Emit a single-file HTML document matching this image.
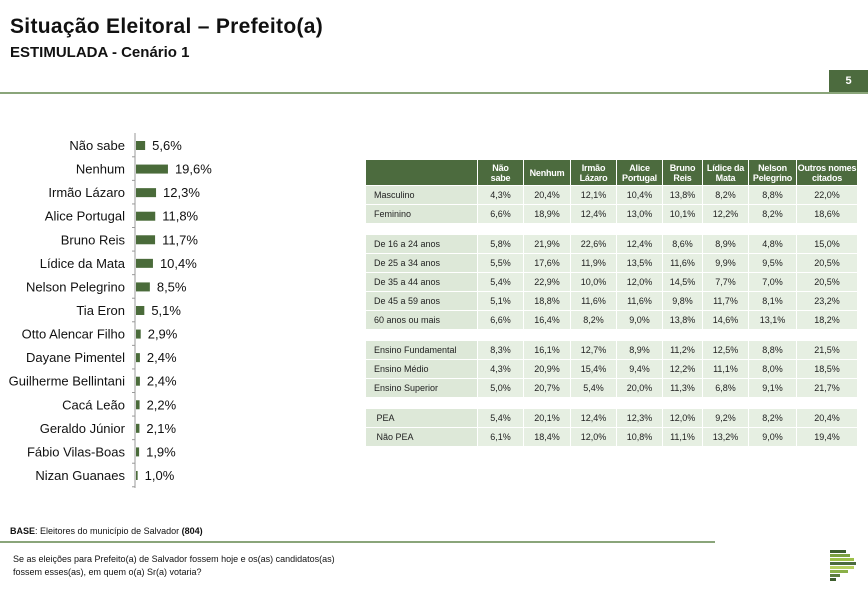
<!DOCTYPE html>
<html><head><meta charset="utf-8">
<style>
body{margin:0;width:868px;height:599px;background:#fff;font-family:"Liberation Sans",Arial,sans-serif;position:relative;overflow:hidden}
.abs{position:absolute}
table{border-collapse:separate;border-spacing:1px 1px;position:absolute;left:365px;top:159px;font-size:9px}
td,th{padding:0;text-align:center}
th{background:#4c6b3e;color:#fff;font-weight:bold;font-size:9px;line-height:10px;height:25px;white-space:nowrap;letter-spacing:-0.2px}
td{background:#e6efe2;height:18px;color:#222}
td.l{text-align:left;padding-left:8px;background:#dde8d8}
tr.gap td{background:#fff;height:10px}
</style></head><body>
<div class="abs" style="left:10px;top:15px;font-size:21px;font-weight:bold;color:#111;letter-spacing:0.3px">Situação Eleitoral – Prefeito(a)</div>
<div class="abs" style="left:10px;top:44px;font-size:15px;font-weight:bold;color:#111">ESTIMULADA - Cenário 1</div>
<div class="abs" style="left:829px;top:70px;width:39px;height:23px;background:#4c6b3e;color:#fff;font-size:11px;font-weight:bold;text-align:center;line-height:23px">5</div>
<div class="abs" style="left:0;top:92px;width:868px;height:2px;background:#8aa57a"></div>

<svg class="abs" style="left:0;top:0" width="360" height="500" id="chart"></svg>

<table>
<tr><th style="width:111px;background:#4c6b3e"></th><th style="width:45px">Não<br>sabe</th><th style="width:46px">Nenhum</th><th style="width:45px">Irmão<br>Lázaro</th><th style="width:45px">Alice<br>Portugal</th><th style="width:39px">Bruno<br>Reis</th><th style="width:45px">Lídice da<br>Mata</th><th style="width:47px">Nelson<br>Pelegrino</th><th style="width:60px">Outros nomes<br>citados</th></tr>
<tr><td class="l">Masculino</td><td>4,3%</td><td>20,4%</td><td>12,1%</td><td>10,4%</td><td>13,8%</td><td>8,2%</td><td>8,8%</td><td>22,0%</td></tr>
<tr><td class="l">Feminino</td><td>6,6%</td><td>18,9%</td><td>12,4%</td><td>13,0%</td><td>10,1%</td><td>12,2%</td><td>8,2%</td><td>18,6%</td></tr>
<tr class="gap"><td colspan="9"></td></tr>
<tr><td class="l">De 16 a 24 anos</td><td>5,8%</td><td>21,9%</td><td>22,6%</td><td>12,4%</td><td>8,6%</td><td>8,9%</td><td>4,8%</td><td>15,0%</td></tr>
<tr><td class="l">De 25 a 34 anos</td><td>5,5%</td><td>17,6%</td><td>11,9%</td><td>13,5%</td><td>11,6%</td><td>9,9%</td><td>9,5%</td><td>20,5%</td></tr>
<tr><td class="l">De 35 a 44 anos</td><td>5,4%</td><td>22,9%</td><td>10,0%</td><td>12,0%</td><td>14,5%</td><td>7,7%</td><td>7,0%</td><td>20,5%</td></tr>
<tr><td class="l">De 45 a 59 anos</td><td>5,1%</td><td>18,8%</td><td>11,6%</td><td>11,6%</td><td>9,8%</td><td>11,7%</td><td>8,1%</td><td>23,2%</td></tr>
<tr><td class="l">60 anos ou mais</td><td>6,6%</td><td>16,4%</td><td>8,2%</td><td>9,0%</td><td>13,8%</td><td>14,6%</td><td>13,1%</td><td>18,2%</td></tr>
<tr class="gap"><td colspan="9"></td></tr>
<tr><td class="l">Ensino Fundamental</td><td>8,3%</td><td>16,1%</td><td>12,7%</td><td>8,9%</td><td>11,2%</td><td>12,5%</td><td>8,8%</td><td>21,5%</td></tr>
<tr><td class="l">Ensino Médio</td><td>4,3%</td><td>20,9%</td><td>15,4%</td><td>9,4%</td><td>12,2%</td><td>11,1%</td><td>8,0%</td><td>18,5%</td></tr>
<tr><td class="l">Ensino Superior</td><td>5,0%</td><td>20,7%</td><td>5,4%</td><td>20,0%</td><td>11,3%</td><td>6,8%</td><td>9,1%</td><td>21,7%</td></tr>
<tr class="gap"><td colspan="9"></td></tr>
<tr><td class="l">&nbsp;PEA</td><td>5,4%</td><td>20,1%</td><td>12,4%</td><td>12,3%</td><td>12,0%</td><td>9,2%</td><td>8,2%</td><td>20,4%</td></tr>
<tr><td class="l">&nbsp;Não PEA</td><td>6,1%</td><td>18,4%</td><td>12,0%</td><td>10,8%</td><td>11,1%</td><td>13,2%</td><td>9,0%</td><td>19,4%</td></tr>
</table>

<div class="abs" style="left:10px;top:526px;font-size:9px;color:#111"><b>BASE</b>: Eleitores do município de Salvador <b>(804)</b></div>
<div class="abs" style="left:0;top:541px;width:715px;height:2px;background:#8aa57a"></div>
<div class="abs" style="left:13px;top:553px;font-size:9px;line-height:13px;color:#111">Se as eleições para Prefeito(a) de Salvador fossem hoje e os(as) candidatos(as)<br>fossem esses(as), em quem o(a) Sr(a) votaria?</div>
<svg class="abs" style="left:830px;top:550px" width="30" height="40">
<rect x="0" y="0" width="16" height="3" fill="#3e5e2e"/><rect x="0" y="4" width="20" height="3" fill="#7aa040"/><rect x="0" y="8" width="24" height="3" fill="#9cc048"/><rect x="0" y="12" width="26" height="3" fill="#4c6b3e"/><rect x="0" y="16" width="24" height="3" fill="#b6d060"/><rect x="0" y="20" width="18" height="3" fill="#8ab048"/><rect x="0" y="24" width="10" height="3" fill="#5c7e3e"/><rect x="0" y="28" width="6" height="3" fill="#3e5e2e"/>
</svg>

<script>
const names=["Não sabe","Nenhum","Irmão Lázaro","Alice Portugal","Bruno Reis","Lídice da Mata","Nelson Pelegrino","Tia Eron","Otto Alencar Filho","Dayane Pimentel","Guilherme Bellintani","Cacá Leão","Geraldo Júnior","Fábio Vilas-Boas","Nizan Guanaes"];
const values=[5.6,19.6,12.3,11.8,11.7,10.4,8.5,5.1,2.9,2.4,2.4,2.2,2.1,1.9,1.0];
const labels=["5,6%","19,6%","12,3%","11,8%","11,7%","10,4%","8,5%","5,1%","2,9%","2,4%","2,4%","2,2%","2,1%","1,9%","1,0%"];
const svg=document.getElementById('chart');
const NS="http://www.w3.org/2000/svg";
const x0=136,scale=1.63,y0=145,step=23.57;
const xf=v=>x0+v*scale, yf=i=>y0+i*step;
const ax=document.createElementNS(NS,'line');


ax.setAttribute('x1',135);ax.setAttribute('x2',135);ax.setAttribute('y1',133);ax.setAttribute('y2',488);ax.setAttribute('stroke','#999');
svg.appendChild(ax);
names.forEach((n,i)=>{
 const y=yf(i);
 const t=document.createElementNS(NS,'line');
 
 
 t.setAttribute('x1',132);t.setAttribute('x2',135);t.setAttribute('y1',y+11.8);t.setAttribute('y2',y+11.8);t.setAttribute('stroke','#999');
 svg.appendChild(t);
 const lb=document.createElementNS(NS,'text');
 
 
 lb.setAttribute('x',125);lb.setAttribute('y',y+5);lb.setAttribute('text-anchor','end');lb.setAttribute('font-size','13');lb.setAttribute('fill','#111');lb.setAttribute('font-family','Liberation Sans, sans-serif');
 lb.textContent=n;svg.appendChild(lb);
 const r=document.createElementNS(NS,'rect');
 
 
 r.setAttribute('x',x0);r.setAttribute('y',y-4);r.setAttribute('width',xf(values[i])-x0);r.setAttribute('height',9);r.setAttribute('fill','#4a6b3a');
 svg.appendChild(r);
 const v=document.createElementNS(NS,'text');
 
 
 v.setAttribute('x',xf(values[i])+7);v.setAttribute('y',y+5);v.setAttribute('font-size','13');v.setAttribute('fill','#111');v.setAttribute('font-family','Liberation Sans, sans-serif');
 v.textContent=labels[i];svg.appendChild(v);
});
</script>
</body></html>
